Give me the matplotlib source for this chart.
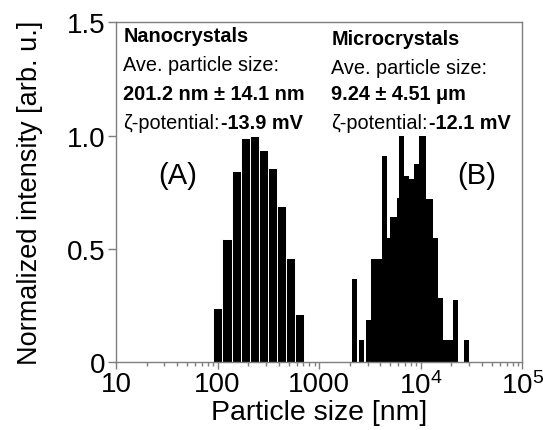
import numpy as np
import matplotlib
matplotlib.use("Agg")
import matplotlib.pyplot as plt
from matplotlib.ticker import FixedLocator, FixedFormatter, LogLocator, NullFormatter

plt.rcParams['font.family'] = ['Liberation Sans', 'DejaVu Sans']
plt.rcParams['mathtext.fontset'] = 'custom'
plt.rcParams['mathtext.rm'] = 'Liberation Sans'

# nanocrystals: bin edges [nm] and normalized intensity
nano_edges = [91, 111, 137, 168, 207, 254, 312, 383, 470, 578, 710]
nano_int = [0.24, 0.545, 0.845, 0.99, 1.0, 0.935, 0.855, 0.69, 0.46, 0.21]

# microcrystals: bin low / high edges [nm] and normalized intensity
micro_lo = [2090, 2465, 2890, 3215, 3640, 4120, 4680, 4980, 5790, 6140, 6840, 7650,
            8570, 9660, 11250, 13280, 14870, 16650, 20600, 26610]
micro_hi = [2340, 2760, 3215, 3640, 4120, 4680, 4980, 5790, 6140, 6840, 7650, 8570,
            9660, 11250, 13280, 14870, 16650, 20600, 23390, 29990]
micro_int = [0.367, 0.095, 0.187, 0.456, 0.456, 0.91, 0.549, 0.64, 0.724, 1.0, 0.82, 0.81,
             0.875, 1.0, 0.721, 0.547, 0.282, 0.095, 0.274, 0.095]

xticks = [10, 100, 1000, 1e4, 1e5]
xticklabels = ['10', '100', '1000', r'$\mathregular{10^4}$', r'$\mathregular{10^5}$']
yticks = [0, 0.5, 1.0, 1.5]
yticklabels = ['0', '0.5', '1.0', '1.5']

fig = plt.figure(figsize=(5.43, 4.31), dpi=100)
ax = fig.add_axes([0.2136, 0.1578, 0.7486, 0.7882])

nano_lo = np.array(nano_edges[:-1])
nano_w = np.array(nano_edges[1:]) - nano_lo
ax.bar(nano_lo, nano_int, width=nano_w, align='edge', color='black',
       edgecolor='white', linewidth=0.7)
micro_lo = np.array(micro_lo)
micro_w = np.array(micro_hi) - micro_lo
ax.bar(micro_lo, micro_int, width=micro_w, align='edge', color='black', linewidth=0)

ax.set_xscale('log')
ax.set_xlim(10, 1e5)
ax.set_ylim(0, 1.5)
ax.xaxis.set_major_locator(FixedLocator(xticks))
ax.xaxis.set_major_formatter(FixedFormatter(xticklabels))
ax.xaxis.set_minor_locator(LogLocator(base=10, subs=np.arange(2, 10), numticks=20))
ax.xaxis.set_minor_formatter(NullFormatter())
ax.yaxis.set_major_locator(FixedLocator(yticks))
ax.yaxis.set_major_formatter(FixedFormatter(yticklabels))

grey = '#7f7f7f'
for s in ax.spines.values():
    s.set_color(grey)
    s.set_linewidth(1.0)
ax.tick_params(axis='both', which='major', direction='out', length=5, width=1,
               color=grey, labelsize=20, pad=1.5)
ax.tick_params(axis='x', which='minor', direction='out', length=3, width=1, color=grey)
ax.tick_params(axis='y', which='major', length=6)

ax.set_xlabel('Particle size [nm]', fontsize=20.5, labelpad=0)
ax.set_ylabel('Normalized intensity [arb. u.]', fontsize=19.5, labelpad=17)

fs = 14.3
def zeta_line(x, y, val):
    t1 = ax.text(x, y, 'ζ-potential:', transform=ax.transAxes, fontsize=fs,
                 ha='left', va='baseline')
    ax.annotate(val, xy=(1, 0), xycoords=t1, xytext=(1, 0), textcoords='offset points',
                fontsize=fs, fontweight='bold', ha='left', va='bottom')

# left block (nanocrystals)
x0 = 0.018
ax.text(x0, 0.945, 'Nanocrystals', transform=ax.transAxes, fontsize=fs,
        fontweight='bold', ha='left', va='baseline')
ax.text(x0, 0.86, 'Ave. particle size:', transform=ax.transAxes, fontsize=fs,
        ha='left', va='baseline')
ax.text(x0, 0.775, '201.2 nm ± 14.1 nm', transform=ax.transAxes, fontsize=fs,
        fontweight='bold', ha='left', va='baseline')
zeta_line(x0, 0.69, '-13.9 mV')

# right block (microcrystals)
x1 = 0.53
ax.text(x1, 0.935, 'Microcrystals', transform=ax.transAxes, fontsize=fs,
        fontweight='bold', ha='left', va='baseline')
ax.text(x1, 0.85, 'Ave. particle size:', transform=ax.transAxes, fontsize=fs,
        ha='left', va='baseline')
ax.text(x1, 0.775, '9.24 ± 4.51 μm', transform=ax.transAxes, fontsize=fs,
        fontweight='bold', ha='left', va='baseline')
zeta_line(x1, 0.69, '-12.1 mV')

ax.text(0.153, 0.55, '(A)', transform=ax.transAxes, fontsize=21, ha='center', va='center')
ax.text(0.888, 0.55, '(B)', transform=ax.transAxes, fontsize=21, ha='center', va='center')

fig.savefig('out.png', dpi=100)
